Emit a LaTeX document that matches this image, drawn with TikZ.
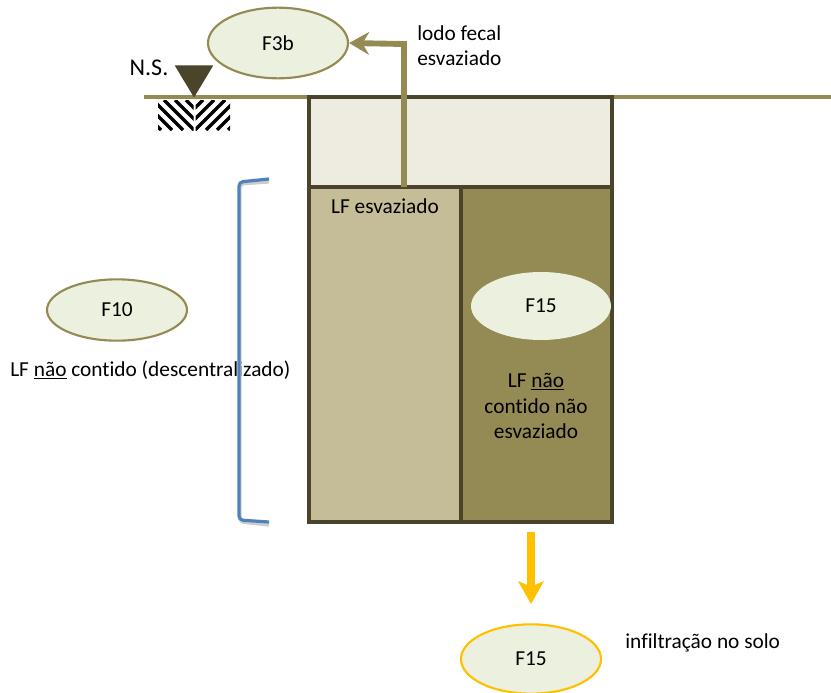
\documentclass[tikz,border=0pt]{standalone}
\usepackage{fontspec}
\setmainfont{Carlito}[Ligatures=NoCommon]
\usetikzlibrary{arrows.meta, shapes.geometric}
\definecolor{olive}{HTML}{948A54}
\definecolor{darkolive}{HTML}{4A452A}
\definecolor{paleolive}{HTML}{EEECE1}
\definecolor{midolive}{HTML}{C4BD97}
\definecolor{palegreen}{HTML}{EBF1DE}
\definecolor{bracketblue}{HTML}{4F81BD}
\definecolor{flowyellow}{HTML}{FFC000}
\begin{document}
\begin{tikzpicture}[
  x=0.75pt, y=-0.75pt,
  font=\fontsize{16}{19}\selectfont,
  stream/.style={
    % The shape:
    ellipse,
    % The size:
    minimum width=105pt,
    % The filling:
    fill=palegreen,
    % padding around node
    inner sep=0pt
  },
  chamber/.style={
    rectangle,
    draw=darkolive,
    line width=2.6pt,
    inner sep=0pt
  },
  label/.style={align=center, inner sep=0pt},
  ]
  \useasboundingbox (0,0) rectangle (831,692);

  % ground line
  \coordinate (gl) at (144,97);
  \coordinate (gr) at (831,97);
  \draw [olive, line width=3.4pt] (gl) -- (gr);

  % soil hatching below the level mark
  \begin{scope}
    \clip (158,100) rectangle (193.5,130);
    \foreach \i in {-3, ..., 4}
    {
      \draw [line width=2.6pt] (194-\i*11-30,100) -- (194-\i*11,130);
    }
  \end{scope}
  \begin{scope}
    \clip (195.5,100) rectangle (230,130);
    \foreach \i in {-3, ..., 4}
    {
      \draw [line width=2.6pt] (195+\i*11+30,100) -- (195+\i*11,130);
    }
  \end{scope}

  % level mark
  \node (mark) [fill=darkolive, isosceles triangle, isosceles triangle apex angle=62, shape border rotate=270, minimum height=24pt, inner sep=0pt, anchor=apex] at (194,98) {};
  \node (ns) [label, font=\fontsize{18}{20}\selectfont] at (149,68) {N.S.};

  % pit
  \node (top) [chamber, fill=paleolive, minimum width=227pt, minimum height=67.5pt] at (460.5,142) {};
  \node (left) [chamber, fill=midolive, minimum width=114pt, minimum height=251pt] at (385,354.5) {};
  \node (right) [chamber, fill=olive, minimum width=113pt, minimum height=251pt] at (536.5,354.5) {};

  % streams
  \node (f3b) [stream, draw=olive, line width=1.6pt, minimum height=53pt] at (278,43) {F3b};
  \node (f10) [stream, draw=olive, line width=1.6pt, minimum height=46pt] at (117,310) {F10};
  \node (f15) [stream, minimum height=51pt] at (541,306) {F15};
  \node (f15s) [stream, draw=flowyellow, line width=1.6pt, minimum height=52pt] at (531,659) {F15};

  % texts
  \node (lodo) [label, align=left, anchor=west] at (417,46) {lodo fecal\\esvaziado};
  \node (lfe) [label] at (385,206) {LF esvaziado};
  \node (lfn) [label] at (536,406) {LF \underline{não}\\contido não\\esvaziado};
  \node (lfd) [label, anchor=west] at (10,370) {LF \underline{não} contido (descentralizado)};
  \node (inf) [label, anchor=west] at (625,643) {infiltração no solo};

  % removal arrow
  \coordinate (c1) at (404,187);
  \draw [-{Stealth[length=15pt, width=17pt, inset=5pt]}, olive, line width=4.4pt] (c1) -- (404,44) -- (f3b.east);

  % infiltration arrow
  \coordinate (c2) at (531,532);
  \coordinate (c3) at (531,604);
  \draw [-{Stealth[length=17pt, width=19pt, inset=4pt]}, flowyellow, line width=6pt] (c2) -- (c3);

  % bracket
  \draw [gray!40, line width=2.4pt, rounded corners=3pt] (269,182) -- (240,184) -- (240,522) -- (269,525);
  \draw [bracketblue, line width=2.4pt, rounded corners=3pt] (269,179) -- (239,182) -- (239,520) -- (269,522);

\end{tikzpicture}
\end{document}
